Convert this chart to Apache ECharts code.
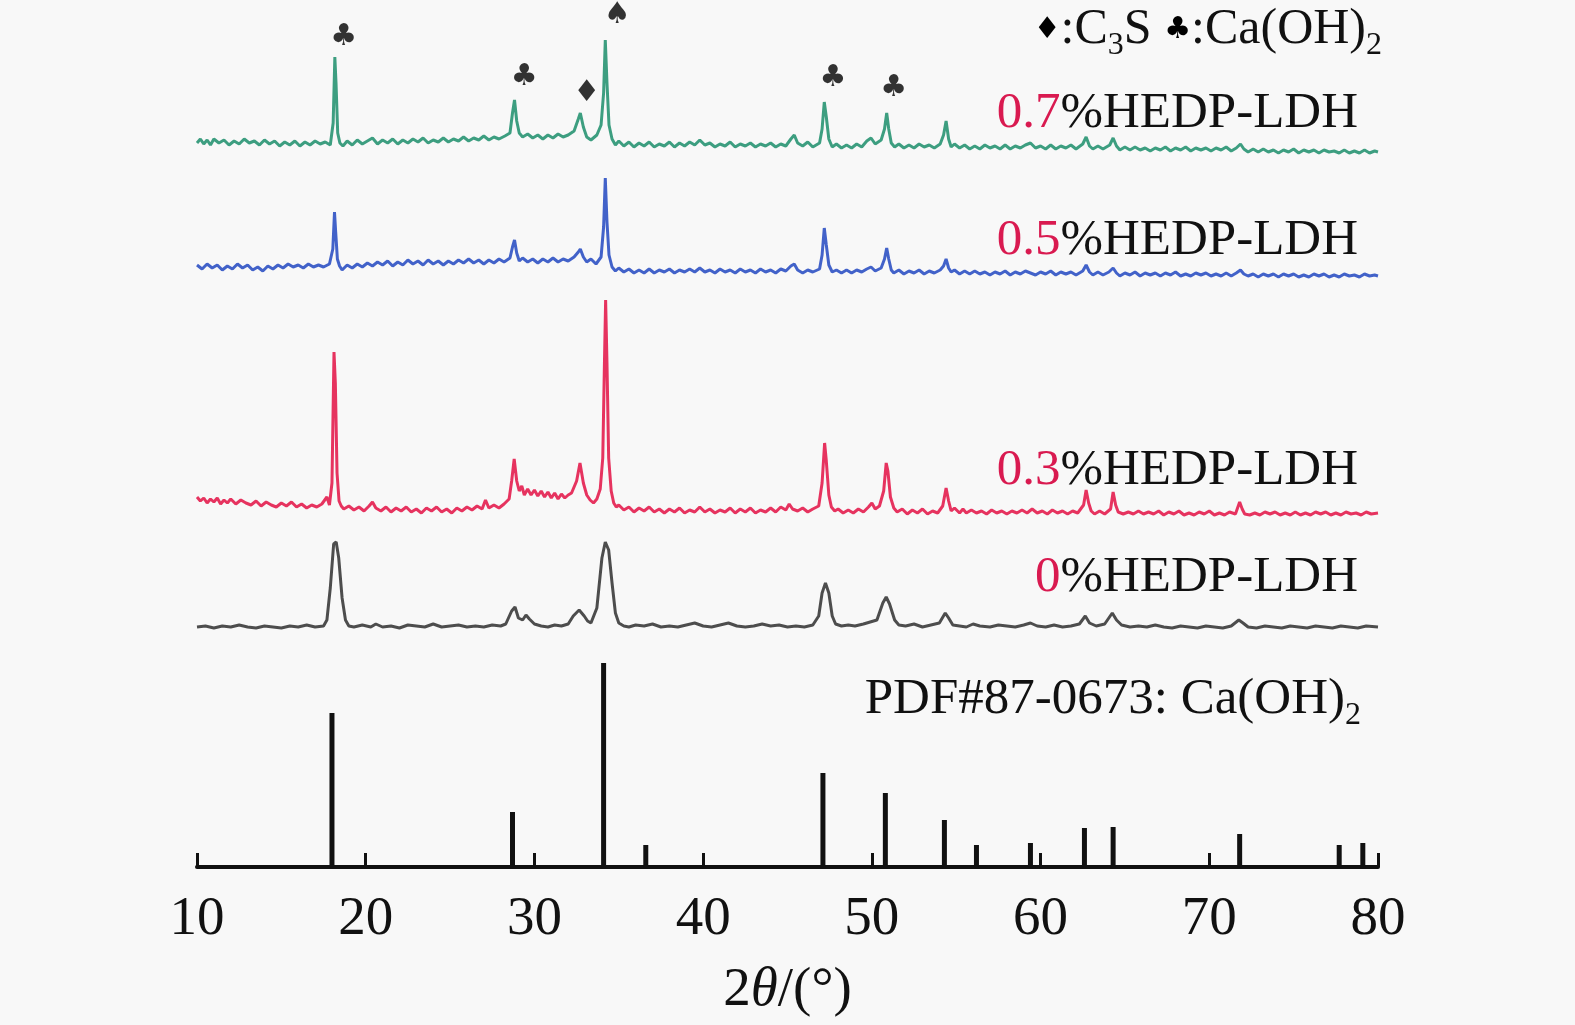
<!DOCTYPE html>
<html>
<head>
<meta charset="utf-8">
<script src="https://cdn.jsdelivr.net/npm/echarts@6/dist/echarts.min.js"></script>
<style>
  html, body { margin: 0; padding: 0; background: #f8f8f8; }
  #chart { width: 1575px; height: 1025px; }
</style>
</head>
<body>
<div id="chart"></div>
<script>
// PDF#87-0673 reference sticks: [2θ, relative intensity]
const pdfSticks = [
  [18.0, 154], [28.7, 55], [34.1, 204], [36.6, 22], [47.1, 94], [50.8, 74],
  [54.3, 47], [56.2, 22], [59.4, 24], [62.6, 39], [64.3, 40], [71.8, 33],
  [77.7, 22], [79.1, 24]
]

// 0 % HEDP-LDH (broad peaks)
const trace0 = [
  [10.0, 1], [10.5, 2], [11.0, 0], [11.5, 2], [12.0, 1], [12.5, 3], [13.0, 1], [13.5, 0],
  [14.0, 2], [14.5, 1], [15.0, 0], [15.5, 2], [16.0, 1], [16.5, 3], [17.0, 1], [17.5, 2],
  [17.7, 8], [17.9, 40], [18.1, 84], [18.25, 86], [18.4, 70], [18.6, 30], [18.8, 8], [19.0, 2],
  [19.3, 1], [19.8, 3], [20.3, 1], [20.6, 4], [21.0, 1], [21.5, 2], [22.0, 0], [22.5, 3],
  [23.0, 2], [23.5, 1], [24.0, 4], [24.5, 1], [25.0, 2], [25.5, 3], [26.0, 1], [26.5, 2],
  [27.0, 1], [27.5, 3], [28.0, 2], [28.3, 4], [28.65, 17], [28.85, 21], [29.05, 10], [29.3, 8],
  [29.5, 13], [29.7, 9], [30.0, 4], [30.4, 2], [30.8, 1], [31.2, 3], [31.6, 2], [32.0, 4],
  [32.3, 12], [32.65, 18], [32.95, 12], [33.15, 7], [33.35, 5], [33.7, 20], [34.0, 70], [34.2, 86],
  [34.4, 78], [34.6, 45], [34.8, 15], [35.0, 5], [35.3, 2], [35.6, 1], [36.0, 3], [36.5, 2],
  [37.0, 4], [37.5, 1], [38.0, 2], [38.5, 1], [39.0, 3], [39.5, 5], [40.0, 2], [40.5, 1],
  [41.0, 3], [41.5, 5], [42.0, 2], [42.5, 1], [43.0, 2], [43.5, 4], [44.0, 2], [44.5, 3],
  [45.0, 1], [45.5, 2], [46.0, 1], [46.5, 3], [46.85, 12], [47.05, 35], [47.25, 45], [47.45, 35],
  [47.65, 12], [47.85, 4], [48.2, 2], [48.6, 3], [49.0, 2], [49.5, 4], [49.9, 6], [50.3, 8],
  [50.65, 25], [50.85, 31], [51.05, 24], [51.35, 8], [51.6, 3], [52.0, 2], [52.5, 4], [53.0, 1],
  [53.5, 3], [54.0, 5], [54.35, 15], [54.55, 10], [54.8, 3], [55.2, 2], [55.6, 1], [56.0, 4],
  [56.4, 2], [57.0, 1], [57.5, 3], [58.0, 2], [58.5, 1], [59.0, 3], [59.4, 5], [59.8, 2],
  [60.3, 1], [60.8, 3], [61.3, 1], [61.8, 2], [62.3, 4], [62.65, 12], [62.9, 5], [63.3, 2],
  [63.8, 4], [64.25, 15], [64.5, 8], [64.8, 3], [65.3, 1], [65.8, 2], [66.3, 1], [66.8, 3],
  [67.3, 1], [67.8, 0], [68.3, 2], [68.8, 1], [69.3, 0], [69.8, 2], [70.3, 1], [70.8, 0],
  [71.3, 2], [71.75, 8], [72.0, 5], [72.3, 1], [72.8, 0], [73.3, 2], [73.8, 1], [74.3, 0],
  [74.8, 2], [75.3, 1], [75.8, 0], [76.3, 2], [76.8, 1], [77.3, 0], [77.8, 2], [78.3, 1],
  [78.8, 0], [79.3, 2], [80.0, 1]
]

// 0.3 % HEDP-LDH
const trace03 = [
  [10.0, 6], [10.2, 2], [10.4, 5], [10.6, 0], [10.8, 4], [11.0, 1], [11.2, 5], [11.4, -1],
  [11.6, 3], [11.8, 0], [12.0, 4], [12.3, -1], [12.6, 3], [12.9, 0], [13.2, -2], [13.5, 2],
  [13.8, -3], [14.1, 1], [14.4, -2], [14.7, -4], [15.0, 0], [15.3, -3], [15.6, 1], [15.9, -4],
  [16.2, -1], [16.5, -5], [16.8, -2], [17.1, -4], [17.4, -1], [17.7, 6], [17.85, -2], [18.0, 20],
  [18.12, 151], [18.2, 120], [18.3, 30], [18.42, 2], [18.55, -3], [18.7, -6], [19.0, -3], [19.3, -7],
  [19.6, -4], [19.9, -8], [20.2, -3], [20.4, 1], [20.6, -5], [20.9, -8], [21.2, -4], [21.5, -9],
  [21.8, -5], [22.1, -8], [22.4, -4], [22.7, -9], [23.0, -6], [23.3, -10], [23.6, -5], [23.9, -8],
  [24.2, -4], [24.5, -9], [24.8, -6], [25.1, -10], [25.4, -5], [25.7, -8], [26.0, -4], [26.3, -7],
  [26.6, -3], [26.9, -6], [27.1, 3], [27.3, -5], [27.6, -2], [27.9, -5], [28.2, -1], [28.5, 4],
  [28.65, 22], [28.8, 44], [28.95, 22], [29.1, 12], [29.25, 17], [29.4, 8], [29.6, 14], [29.8, 8],
  [30.0, 13], [30.2, 7], [30.4, 12], [30.6, 6], [30.8, 11], [31.0, 5], [31.2, 10], [31.4, 4],
  [31.6, 9], [31.8, 5], [32.0, 8], [32.2, 10], [32.5, 22], [32.7, 40], [32.9, 20], [33.1, 8],
  [33.3, 3], [33.5, 0], [33.7, 4], [33.9, 14], [34.05, 45], [34.15, 140], [34.22, 203], [34.3, 140],
  [34.4, 45], [34.55, 12], [34.7, 0], [34.85, -4], [35.0, -2], [35.3, -7], [35.6, -4], [35.9, -9],
  [36.2, -5], [36.5, -8], [36.8, -4], [37.1, -9], [37.4, -6], [37.7, -10], [38.0, -6], [38.3, -9],
  [38.6, -5], [38.9, -10], [39.2, -7], [39.5, -9], [39.8, -4], [40.1, -9], [40.4, -6], [40.7, -10],
  [41.0, -7], [41.3, -9], [41.6, -5], [41.9, -10], [42.2, -6], [42.5, -9], [42.8, -5], [43.1, -10],
  [43.4, -7], [43.7, -9], [44.0, -5], [44.3, -9], [44.6, -4], [44.9, -7], [45.1, -1], [45.3, -6],
  [45.6, -8], [45.9, -5], [46.2, -9], [46.5, -6], [46.85, -3], [47.05, 20], [47.2, 60], [47.3, 42],
  [47.45, 8], [47.6, -4], [47.8, -8], [48.0, -6], [48.3, -10], [48.6, -7], [48.9, -10], [49.2, -6],
  [49.5, -9], [49.8, -4], [50.0, 0], [50.2, -6], [50.45, -3], [50.7, 12], [50.85, 40], [50.95, 32],
  [51.1, 6], [51.3, -5], [51.5, -9], [51.8, -6], [52.1, -11], [52.4, -7], [52.7, -10], [53.0, -6],
  [53.3, -11], [53.6, -8], [53.9, -10], [54.2, -3], [54.4, 15], [54.55, 2], [54.7, -8], [54.9, -5],
  [55.2, -10], [55.4, -6], [55.6, -10], [55.9, -7], [56.2, -10], [56.5, -8], [56.8, -11], [57.1, -7],
  [57.4, -10], [57.7, -8], [58.0, -11], [58.3, -8], [58.6, -10], [58.9, -7], [59.2, -10], [59.5, -6],
  [59.8, -10], [60.1, -8], [60.4, -11], [60.7, -7], [61.0, -10], [61.3, -8], [61.6, -11], [61.9, -8],
  [62.2, -10], [62.55, -2], [62.7, 13], [62.85, 0], [63.0, -8], [63.2, -11], [63.5, -8], [63.8, -11],
  [64.15, -6], [64.3, 11], [64.45, -2], [64.6, -9], [64.9, -11], [65.2, -9], [65.5, -11], [65.8, -8],
  [66.1, -11], [66.4, -9], [66.7, -11], [67.0, -8], [67.3, -12], [67.6, -9], [67.9, -11], [68.2, -8],
  [68.5, -12], [68.8, -10], [69.1, -12], [69.4, -9], [69.7, -11], [70.0, -8], [70.3, -12], [70.6, -10],
  [70.9, -12], [71.2, -9], [71.55, -11], [71.8, 1], [71.95, -6], [72.1, -11], [72.4, -12], [72.7, -10],
  [73.0, -12], [73.3, -9], [73.6, -11], [73.9, -9], [74.2, -12], [74.5, -10], [74.8, -12], [75.1, -9],
  [75.4, -12], [75.7, -10], [76.0, -12], [76.3, -9], [76.6, -11], [76.9, -9], [77.2, -12], [77.5, -10],
  [77.8, -12], [78.1, -9], [78.4, -11], [78.7, -10], [79.0, -12], [79.3, -9], [79.6, -11], [80.0, -10]
]

// 0.5 % HEDP-LDH
const trace05 = [
  [10.0, 2], [10.3, -2], [10.6, 3], [10.9, -1], [11.2, 2], [11.5, -3], [11.8, 1], [12.1, -2],
  [12.4, 3], [12.7, -1], [13.0, 2], [13.3, -3], [13.6, 0], [13.9, -4], [14.2, 1], [14.5, -2],
  [14.8, 2], [15.1, -1], [15.4, 3], [15.7, 0], [16.0, 2], [16.3, -1], [16.6, 3], [16.9, 0],
  [17.2, 2], [17.5, 0], [17.85, 3], [18.05, 18], [18.15, 55], [18.22, 35], [18.32, 8], [18.45, 1],
  [18.6, -3], [18.9, 2], [19.2, -1], [19.5, 3], [19.8, 0], [20.1, 4], [20.4, 1], [20.7, 5],
  [21.0, 2], [21.3, 6], [21.6, 1], [21.9, 5], [22.2, 2], [22.5, 7], [22.8, 3], [23.1, 6],
  [23.4, 2], [23.7, 7], [24.0, 3], [24.3, 6], [24.6, 2], [24.9, 6], [25.2, 3], [25.5, 7],
  [25.8, 4], [26.1, 8], [26.4, 4], [26.7, 7], [27.0, 3], [27.3, 7], [27.6, 4], [27.9, 8],
  [28.2, 5], [28.55, 9], [28.7, 20], [28.82, 27], [28.95, 14], [29.1, 6], [29.3, 9], [29.6, 5],
  [29.9, 8], [30.2, 4], [30.5, 8], [30.8, 5], [31.1, 9], [31.4, 5], [31.7, 8], [32.0, 6],
  [32.35, 10], [32.6, 15], [32.72, 18], [32.9, 10], [33.1, 5], [33.35, 8], [33.65, 3], [33.95, 10],
  [34.1, 40], [34.2, 89], [34.3, 45], [34.42, 12], [34.6, 0], [34.8, -4], [35.0, -1], [35.3, -5],
  [35.6, -2], [35.9, -6], [36.2, -3], [36.5, -6], [36.8, -2], [37.1, -6], [37.4, -3], [37.7, -5],
  [38.0, -2], [38.3, -6], [38.6, -3], [38.9, -5], [39.2, -2], [39.5, -5], [39.8, -1], [40.1, -5],
  [40.4, -3], [40.7, -6], [41.0, -2], [41.3, -5], [41.6, -3], [41.9, -6], [42.2, -2], [42.5, -5],
  [42.8, -3], [43.1, -6], [43.4, -2], [43.7, -5], [44.0, -3], [44.3, -6], [44.6, -2], [44.9, -4],
  [45.2, 1], [45.4, 3], [45.6, -3], [45.9, -6], [46.2, -3], [46.5, -5], [46.9, -2], [47.05, 12],
  [47.18, 39], [47.3, 22], [47.45, 2], [47.65, -5], [47.9, -3], [48.2, -6], [48.5, -3], [48.8, -6],
  [49.1, -3], [49.4, -5], [49.7, -2], [49.95, 0], [50.2, -4], [50.55, -1], [50.75, 8], [50.88, 19],
  [51.0, 8], [51.15, -3], [51.3, -6], [51.6, -3], [51.9, -7], [52.2, -4], [52.5, -6], [52.8, -3],
  [53.1, -7], [53.4, -4], [53.7, -6], [54.05, -3], [54.25, 1], [54.4, 8], [54.55, -1], [54.7, -5],
  [54.9, -3], [55.2, -7], [55.5, -4], [55.8, -7], [56.1, -4], [56.4, -7], [56.7, -5], [57.0, -8],
  [57.3, -5], [57.6, -7], [57.9, -4], [58.2, -8], [58.5, -5], [58.8, -7], [59.1, -4], [59.4, -6],
  [59.7, -8], [60.0, -5], [60.3, -7], [60.6, -4], [60.9, -8], [61.2, -5], [61.5, -7], [61.8, -5],
  [62.1, -8], [62.5, -4], [62.7, 2], [62.9, -5], [63.1, -8], [63.4, -5], [63.7, -8], [64.05, -5],
  [64.3, -1], [64.5, -6], [64.7, -9], [65.0, -6], [65.3, -8], [65.6, -5], [65.9, -9], [66.2, -6],
  [66.5, -8], [66.8, -6], [67.1, -9], [67.4, -6], [67.7, -8], [68.0, -5], [68.3, -9], [68.6, -7],
  [68.9, -9], [69.2, -6], [69.5, -8], [69.8, -6], [70.1, -9], [70.4, -7], [70.7, -9], [71.0, -6],
  [71.3, -9], [71.6, -6], [71.85, -3], [72.05, -7], [72.3, -9], [72.6, -7], [72.9, -10], [73.2, -7],
  [73.5, -9], [73.8, -7], [74.1, -10], [74.4, -7], [74.7, -9], [75.0, -7], [75.3, -10], [75.6, -8],
  [75.9, -10], [76.2, -7], [76.5, -9], [76.8, -7], [77.1, -10], [77.4, -8], [77.7, -10], [78.0, -7],
  [78.3, -9], [78.6, -8], [78.9, -10], [79.2, -7], [79.5, -9], [79.8, -8], [80.0, -9]
]

// 0.7 % HEDP-LDH
const trace07 = [
  [10.0, 0], [10.2, 4], [10.4, -1], [10.6, 3], [10.8, -2], [11.0, 4], [11.3, 0], [11.6, 3],
  [11.9, -2], [12.2, 2], [12.5, -1], [12.8, 4], [13.1, 0], [13.4, 2], [13.7, -2], [14.0, 3],
  [14.3, -1], [14.6, 2], [14.9, -3], [15.2, 1], [15.5, -2], [15.8, 2], [16.1, -3], [16.4, 1],
  [16.7, -2], [17.0, 2], [17.3, -1], [17.6, 1], [17.9, -2], [18.07, 20], [18.17, 86], [18.24, 60],
  [18.34, 10], [18.47, 0], [18.65, -3], [18.9, 2], [19.2, -2], [19.5, 3], [19.8, -1], [20.1, 2],
  [20.4, 5], [20.7, -1], [21.0, 3], [21.3, 0], [21.6, 4], [21.9, -1], [22.2, 3], [22.5, 0],
  [22.8, 4], [23.1, 1], [23.4, 5], [23.7, 0], [24.0, 3], [24.3, 1], [24.6, 5], [24.9, 1],
  [25.2, 4], [25.5, 2], [25.8, 6], [26.1, 2], [26.4, 5], [26.7, 3], [27.0, 7], [27.3, 3],
  [27.6, 6], [27.9, 4], [28.25, 7], [28.55, 10], [28.7, 30], [28.82, 43], [28.95, 22], [29.1, 10],
  [29.3, 6], [29.6, 9], [29.9, 5], [30.2, 8], [30.5, 4], [30.8, 8], [31.1, 5], [31.4, 9],
  [31.7, 6], [32.0, 8], [32.35, 12], [32.6, 24], [32.72, 30], [32.9, 16], [33.1, 6], [33.35, 3],
  [33.7, 8], [33.95, 18], [34.1, 50], [34.2, 103], [34.3, 60], [34.42, 18], [34.6, 4], [34.8, -2],
  [35.0, 2], [35.3, -3], [35.6, 1], [35.9, -4], [36.2, 0], [36.5, -3], [36.8, 1], [37.1, -4],
  [37.4, -1], [37.7, -3], [38.0, 1], [38.3, -4], [38.6, 0], [38.9, -3], [39.2, 1], [39.5, -2],
  [39.8, 3], [40.1, -2], [40.4, 0], [40.7, -4], [41.0, -1], [41.3, -3], [41.6, 1], [41.9, -4],
  [42.2, -1], [42.5, -3], [42.8, 0], [43.1, -4], [43.4, -1], [43.7, -3], [44.0, 0], [44.3, -4],
  [44.6, -1], [44.9, -3], [45.2, 4], [45.4, 8], [45.6, 0], [45.9, -3], [46.2, 1], [46.5, -4],
  [46.9, 0], [47.05, 14], [47.18, 41], [47.3, 26], [47.45, 4], [47.65, -4], [47.9, -1], [48.2, -5],
  [48.5, -2], [48.8, -5], [49.1, -1], [49.4, -4], [49.7, 2], [49.95, 5], [50.2, -1], [50.55, 3],
  [50.75, 14], [50.88, 30], [51.0, 14], [51.15, 0], [51.35, -4], [51.6, -1], [51.9, -5], [52.2, -2],
  [52.5, -5], [52.8, -1], [53.1, -4], [53.4, -2], [53.7, -5], [54.05, -1], [54.25, 8], [54.4, 22],
  [54.55, 4], [54.7, -4], [54.9, -1], [55.2, -5], [55.5, -2], [55.8, -6], [56.1, -3], [56.4, -6],
  [56.7, -2], [57.0, -5], [57.3, -3], [57.6, -6], [57.9, -2], [58.2, -6], [58.5, -3], [58.8, -5],
  [59.1, -2], [59.4, 0], [59.7, -5], [60.0, -3], [60.3, -6], [60.6, -2], [60.9, -6], [61.2, -3],
  [61.5, -5], [61.8, -2], [62.1, -6], [62.5, -1], [62.7, 6], [62.9, -3], [63.1, -6], [63.4, -3],
  [63.7, -6], [64.1, -2], [64.3, 5], [64.5, -3], [64.7, -7], [65.0, -4], [65.3, -7], [65.6, -4],
  [65.9, -7], [66.2, -5], [66.5, -8], [66.8, -5], [67.1, -7], [67.4, -4], [67.7, -8], [68.0, -5],
  [68.3, -7], [68.6, -4], [68.9, -8], [69.2, -5], [69.5, -7], [69.8, -5], [70.1, -8], [70.4, -5],
  [70.7, -7], [71.0, -4], [71.3, -8], [71.6, -5], [71.85, -1], [72.05, -6], [72.3, -9], [72.6, -6],
  [72.9, -9], [73.2, -6], [73.5, -9], [73.8, -7], [74.1, -10], [74.4, -7], [74.7, -9], [75.0, -6],
  [75.3, -10], [75.6, -7], [75.9, -9], [76.2, -7], [76.5, -10], [76.8, -7], [77.1, -9], [77.4, -8],
  [77.7, -10], [78.0, -7], [78.3, -10], [78.6, -8], [78.9, -10], [79.2, -7], [79.5, -10], [79.8, -8],
  [80.0, -9]
]

const traceNames = ['0%HEDP-LDH', '0.3%HEDP-LDH', '0.5%HEDP-LDH', '0.7%HEDP-LDH']
const traceData = [trace0, trace03, trace05, trace07]
const traceOffsets = [239, 364, 600, 724]
const traceColors = ['#4d4d4d', '#e6335f', '#4262c9', '#3d9e80']

// phase markers above the peaks: [2θ, height]
const markerPoints = [[18.7, 830], [29.4, 790], [33.1, 774], [34.9, 852], [47.7, 789], [51.3, 779]]
const markerGlyphs = ['♣', '♣', '♦', '♠', '♣', '♣']

const SERIF = '"Liberation Serif", "Times New Roman", serif'
const RED = '#d91a50'

const chart = echarts.init(document.getElementById('chart'))

const series = traceData.map((arr, i) => ({
    name: traceNames[i],
    type: 'line',
    data: arr.map(p => [p[0], p[1] + traceOffsets[i]]),
    showSymbol: false,
    symbol: 'none',
    lineStyle: { color: traceColors[i], width: 3 },
    z: 3 + i
}))

series.push({
    name: 'PDF#87-0673',
    type: 'bar',
    data: pdfSticks,
    barWidth: 5,
    itemStyle: { color: '#111' },
    z: 2
})

series.push({
    name: 'markers',
    type: 'scatter',
    data: markerPoints,
    symbolSize: 0,
    label: {
        show: true,
        position: 'inside',
        formatter: p => markerGlyphs[p.dataIndex],
        fontSize: 30,
        fontFamily: '"DejaVu Sans", sans-serif',
        color: '#000'
    },
    z: 10
})

// right-aligned text with an optional red part and subscripts
function rightLabel(x, y, text, size, glyphSize) {
    return {
        type: 'text',
        x: x,
        y: y,
        style: {
            text: text,
            align: 'right',
            verticalAlign: 'middle',
            fill: '#111',
            fontSize: size,
            fontFamily: SERIF,
            lineHeight: 64,
            rich: {
                r: { fill: RED, fontSize: size, fontFamily: SERIF, lineHeight: 64 },
                g: { fill: '#000', fontSize: glyphSize || 28, fontFamily: '"DejaVu Sans", sans-serif', lineHeight: 64 },
                s: { fill: '#111', fontSize: 32, fontFamily: SERIF, verticalAlign: 'bottom', lineHeight: 32 }
            }
        }
    }
}

chart.setOption({
    backgroundColor: '#f8f8f8',
    animation: false,
    grid: { left: 197, right: 197, top: 0, bottom: 158 },
    xAxis: {
        type: 'value',
        min: 10,
        max: 80,
        interval: 10,
        splitLine: { show: false },
        axisLine: { show: true, lineStyle: { color: '#111', width: 4 } },
        axisTick: { show: true, inside: true, length: 14, lineStyle: { color: '#111', width: 3 } },
        axisLabel: { fontSize: 55, fontFamily: SERIF, color: '#111', margin: 25 },
        name: '2{i|θ}/(°)',
        nameLocation: 'middle',
        nameGap: 96,
        nameTextStyle: {
            fontSize: 55,
            fontFamily: SERIF,
            color: '#111',
            rich: { i: { fontSize: 55, fontFamily: SERIF, fontStyle: 'italic', color: '#111' } }
        }
    },
    yAxis: {
        type: 'value',
        min: 0,
        max: 867,
        show: false,
        splitLine: { show: false }
    },
    graphic: [
        rightLabel(1358, 114, '{r|0.7}%HEDP-LDH', 51),
        rightLabel(1358, 241, '{r|0.5}%HEDP-LDH', 51),
        rightLabel(1358, 471, '{r|0.3}%HEDP-LDH', 51),
        rightLabel(1358, 578, '{r|0}%HEDP-LDH', 51),
        rightLabel(1361, 700, 'PDF#87-0673: Ca(OH){s|2}', 51),
        rightLabel(1382, 30, '{g|♦}:C{s|3}S {g|♣}:Ca(OH){s|2}', 50, 30)
    ],
    series
})
</script>
</body>
</html>
